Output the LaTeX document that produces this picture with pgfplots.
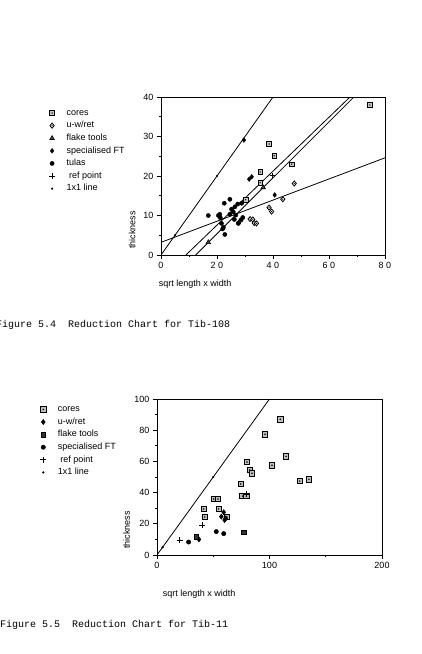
\documentclass[border=0pt]{standalone}
\usepackage{fontspec}
\setmainfont{Liberation Sans}
\newfontfamily\capfont{Liberation Mono}
\usepackage{pgfplots}
\pgfplotsset{compat=1.18}

\pgfdeclareplotmark{sqdot}{%
  \pgfpathrectangle{\pgfqpoint{-\pgfplotmarksize}{-\pgfplotmarksize}}{\pgfqpoint{2\pgfplotmarksize}{2\pgfplotmarksize}}%
  \pgfusepathqfillstroke
  \pgfscope\pgfsetfillcolor{black}%
  \pgfpathcircle{\pgfpointorigin}{0.32\pgfplotmarksize}%
  \pgfusepathqfill\endpgfscope}
\pgfdeclareplotmark{diadot}{%
  \pgfpathmoveto{\pgfqpoint{0pt}{1.2\pgfplotmarksize}}%
  \pgfpathlineto{\pgfqpoint{\pgfplotmarksize}{0pt}}%
  \pgfpathlineto{\pgfqpoint{0pt}{-1.2\pgfplotmarksize}}%
  \pgfpathlineto{\pgfqpoint{-\pgfplotmarksize}{0pt}}%
  \pgfpathclose
  \pgfusepathqfillstroke
  \pgfscope\pgfsetfillcolor{black}%
  \pgfpathcircle{\pgfpointorigin}{0.3\pgfplotmarksize}%
  \pgfusepathqfill\endpgfscope}

\pgfplotsset{refstyle/.style={
  scale only axis,
  axis line style={line width=0.8pt},
  tick style={black, line width=0.6pt},
  tick align=outside, tick pos=left,
  major tick length=4pt, minor tick length=2.2pt,
  tick label style={font=\fontsize{9}{10}\selectfont},
  label style={font=\fontsize{9}{10}\selectfont},
  /pgf/number format/assume math mode=true,
  legend cell align=left,
  legend image code/.code={%
    \path[draw=none, fill=none] (-6pt,0pt) -- (13pt,0pt);
    \draw[#1] plot coordinates {(0pt,0pt)};},
  legend style={draw=none, fill=none, font=\fontsize{9}{10}\selectfont,
    inner sep=0pt, outer sep=0pt, row sep=1.1pt,
    nodes={inner sep=1.5pt, text height=6.5pt, text depth=2pt}},
}}

\begin{document}
\begin{tikzpicture}
\useasboundingbox (0pt,0pt) rectangle (421pt,654pt);

% ---------------- Figure 5.4 ----------------
\begin{axis}[refstyle,
  at={(161pt,399pt)}, anchor=south west, width=224pt, height=158pt,
  xmin=0, xmax=80, ymin=0, ymax=40,
  xtick={0,20,40,60,80},
  xticklabels={0,2\hspace{2.5pt}0,4\hspace{2.5pt}0,6\hspace{2.5pt}0,8\hspace{2.5pt}0},
  ytick={0,10,20,30,40}, minor tick num=1,
  xlabel={sqrt length x width}, ylabel={thickness},
  xlabel style={at={(axis description cs:0.152,-0.184)}, anchor=center},
  ylabel style={at={(axis description cs:-0.129,0.158)}, anchor=center},
  legend style={at={(axis description cs:-0.513,0.935)}, anchor=north west},
]
\addplot[only marks, mark=sqdot, mark size=2.3pt, draw=black, fill=gray!45, line width=0.6pt]
 coordinates {(74.6,38.0) (38.6,28.1) (40.4,25.1) (35.4,21.0) (46.7,23.0) (35.4,18.3) (30.2,14.0)};
\addlegendentry{cores}
\addplot[only marks, mark=diadot, mark size=2.1pt, draw=black, fill=white, line width=0.8pt]
 coordinates {(47.6,18.1) (43.5,14.1) (38.6,12.0) (39.5,11.0) (31.8,9.1) (32.8,9.0) (33.3,8.1) (34.1,8.0) (27.8,8.2)};
\addlegendentry{u-w/ret}
\addplot[only marks, mark=triangle*, mark size=2.6pt, draw=black, fill=black!70, line width=0.6pt]
 coordinates {(36.5,17.1) (16.9,3.2)};
\addlegendentry{flake tools}
\addplot[only marks, mark=diamond*, mark size=2.4pt, draw=black, fill=black]
 coordinates {(29.6,29.1) (31.5,19.2) (32.4,19.8) (40.6,15.2)};
\addlegendentry{specialised FT}
\addplot[only marks, mark=*, mark size=2.1pt, draw=black, fill=black]
 coordinates {(24.6,14.1) (22.6,13.1) (16.9,10.0) (20.5,10.0) (21.2,9.4) (21.6,8.0) (22.3,7.0) (22.8,5.2) (22.0,6.6) (26.4,12.2) (27.4,12.9) (25.8,10.9) (26.7,10.1) (26.2,9.0) (27.6,8.0) (28.6,8.9) (28.8,13.1) (25.2,11.6) (24.6,10.3) (29.2,9.5) (21.0,10.3)};
\addlegendentry{tulas}
\addplot[only marks, mark=+, mark size=2.6pt, draw=black, line width=0.9pt]
 coordinates {(39.8,20.1)};
\addlegendentry{\ ref point}
\addplot[only marks, mark=*, mark size=0.9pt, draw=black, fill=black]
 coordinates {(5,5) (20,20)};
\addlegendentry{1x1 line}
% lines
\addplot[forget plot, black, line width=0.8pt] coordinates {(0,0) (40,40)};
\addplot[forget plot, black, line width=0.8pt] coordinates {(8.9,0) (67.5,40)};
\addplot[forget plot, black, line width=0.8pt] coordinates {(12.4,0) (68.9,40)};
\addplot[forget plot, black, line width=0.8pt] coordinates {(0,3.2) (80,24.6)};
\end{axis}
\node[anchor=base west, font=\capfont\fontsize{10}{12}\selectfont, inner sep=0pt] at (-4pt,326pt) {Figure 5.4\ \ Reduction Chart for Tib-108};

% ---------------- Figure 5.5 ----------------
\begin{axis}[refstyle,
  at={(157pt,99pt)}, anchor=south west, width=225pt, height=156pt,
  xmin=0, xmax=200, ymin=0, ymax=100,
  xtick={0,100,200}, minor xtick={50,150},
  ytick={0,20,40,60,80,100}, minor ytick={10,30,50,70,90},
  xlabel={sqrt length x width}, ylabel={thickness},
  xlabel style={at={(axis description cs:0.187,-0.25)}, anchor=center},
  ylabel style={at={(axis description cs:-0.135,0.16)}, anchor=center},
  legend style={at={(axis description cs:-0.532,0.97)}, anchor=north west},
]
\addplot[only marks, mark=sqdot, mark size=2.6pt, draw=black, fill=gray!50, line width=0.7pt]
 coordinates {(109.6,87.0) (96.0,77.4) (114.7,63.2) (102.2,57.5) (80.0,59.6) (82.4,54.5) (84.4,52.4) (126.8,47.4) (135.1,48.5) (74.4,45.5) (75.9,37.8) (79.4,37.8) (50.4,35.9) (54.2,35.9) (41.5,29.5) (54.8,29.5) (42.4,24.4) (62.2,24.4)};
\addlegendentry{cores}
\addplot[only marks, mark=diamond*, mark size=2.6pt, draw=black, fill=black]
 coordinates {(59.3,27.4) (57.2,24.6) (60.1,22.4) (61.0,23.5) (37.3,10.0)};
\addlegendentry{u-w/ret}
\addplot[only marks, mark=square*, mark size=2.3pt, draw=black, fill=black!80]
 coordinates {(35.0,11.8) (77.3,14.5)};
\addlegendentry{flake tools}
\addplot[only marks, mark=*, mark size=2.2pt, draw=black, fill=black]
 coordinates {(28.1,8.3) (52.7,15.0) (59.3,13.7)};
\addlegendentry{specialised FT}
\addplot[only marks, mark=+, mark size=3pt, draw=black, line width=0.9pt]
 coordinates {(20.1,9.6) (40.0,19.2) (79.1,39.1)};
\addlegendentry{\ ref point}
\addplot[only marks, mark=*, mark size=0.9pt, draw=black, fill=black]
 coordinates {(5,5) (50,50)};
\addlegendentry{1x1 line}
\addplot[forget plot, black, line width=0.8pt] coordinates {(0,0) (100,100)};
\end{axis}
\node[anchor=base west, font=\capfont\fontsize{10}{12}\selectfont, inner sep=0pt] at (0pt,26pt) {Figure 5.5\ \ Reduction Chart for Tib-11};
\end{tikzpicture}
\end{document}
